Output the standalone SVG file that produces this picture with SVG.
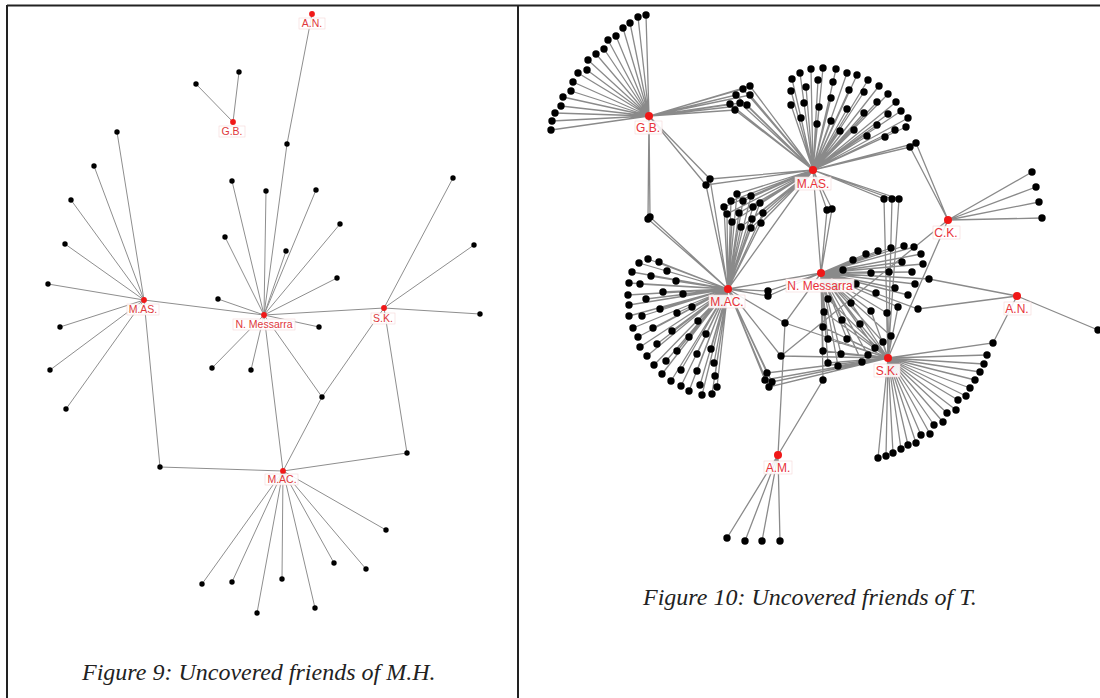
<svg xmlns="http://www.w3.org/2000/svg" width="1100" height="698" viewBox="0 0 1100 698">
<style>
.frame{stroke:#222;stroke-width:2;fill:none}
.el{stroke:#8e8e8e;stroke-width:1;fill:none}
.er{stroke:#8a8a8a;stroke-width:1.3;fill:none}
.nl{fill:#000}
.nr circle{fill:#000;r:3.7px}
.h{fill:#f01818}
.lb{fill:#fff;fill-opacity:.88;stroke:#f6d6d6;stroke-width:.6}
.tl{font-family:"Liberation Sans",Arial,sans-serif;font-size:10.5px;fill:#e0383c;text-anchor:middle}
.tr{font-family:"Liberation Sans",Arial,sans-serif;font-size:12px;fill:#e8333a;text-anchor:middle}
.cap{font-family:"Liberation Serif","Times New Roman",serif;font-style:italic;font-size:24px;fill:#222}
</style>
<rect width="1100" height="698" fill="#fff"/>
<g id="frame">
<line class="frame" x1="7" y1="5.5" x2="1100" y2="5.5" stroke-width="1.6"/>
<line class="frame" x1="7" y1="5" x2="7" y2="698"/>
<line class="frame" x1="518" y1="5" x2="518" y2="698" stroke-width="2.4"/>
</g>

<!-- LEFT FIGURE -->
<g id="left-connectors">
<path class="el" d="M233 122L239 72M233 122L196 84M312 14L287 144L264 315
M144 300L117 132M144 300L94 166M144 300L71 200M144 300L65 244M144 300L48 284M144 300L60 327M144 300L50 370M144 300L66 409
M144 300L264 315M144 300L160 467L283 471
M264 315L232 181M264 315L266 191M264 315L316 190M264 315L340 224M264 315L225 237M264 315L286 251M264 315L337 278M264 315L218 299M264 315L319 327M264 315L212 368M264 315L251 370
M264 315L384 308M264 315L283 471M264 315L322 397L384 308M322 397L283 471
M384 308L453 178M384 308L474 245M384 308L480 314M384 308L407 453L283 471
M283 471L386 530M283 471L334 563M283 471L366 569M283 471L202 584M283 471L232 582M283 471L282 579M283 471L257 613M283 471L315 608"/>
</g>
<g id="left-leaves" class="nl">
<circle id="l1" cx="239" cy="72" r="2.7"/><circle id="l2" cx="196" cy="84" r="2.7"/><circle id="l3" cx="287" cy="144" r="2.7"/>
<circle id="l4" cx="117" cy="132" r="2.7"/><circle id="l5" cx="94" cy="166" r="2.7"/><circle id="l6" cx="71" cy="200" r="2.7"/><circle id="l7" cx="65" cy="244" r="2.7"/><circle id="l8" cx="48" cy="284" r="2.7"/><circle id="l9" cx="60" cy="327" r="2.7"/><circle id="l10" cx="50" cy="370" r="2.7"/><circle id="l11" cx="66" cy="409" r="2.7"/>
<circle id="l12" cx="232" cy="181" r="2.7"/><circle id="l13" cx="266" cy="191" r="2.7"/><circle id="l14" cx="316" cy="190" r="2.7"/><circle id="l15" cx="340" cy="224" r="2.7"/><circle id="l16" cx="225" cy="237" r="2.7"/><circle id="l17" cx="286" cy="251" r="2.7"/><circle id="l18" cx="337" cy="278" r="2.7"/><circle id="l19" cx="218" cy="299" r="2.7"/><circle id="l20" cx="319" cy="327" r="2.7"/><circle id="l21" cx="212" cy="368" r="2.7"/><circle id="l22" cx="251" cy="370" r="2.7"/>
<circle id="l23" cx="453" cy="178" r="2.7"/><circle id="l24" cx="474" cy="245" r="2.7"/><circle id="l25" cx="480" cy="314" r="2.7"/>
<circle id="l26" cx="322" cy="397" r="2.7"/><circle id="l27" cx="407" cy="453" r="2.7"/><circle id="l28" cx="160" cy="467" r="2.7"/>
<circle id="l29" cx="386" cy="530" r="2.7"/><circle id="l30" cx="334" cy="563" r="2.7"/><circle id="l31" cx="366" cy="569" r="2.7"/><circle id="l32" cx="202" cy="584" r="2.7"/><circle id="l33" cx="232" cy="582" r="2.7"/><circle id="l34" cx="282" cy="579" r="2.7"/><circle id="l35" cx="257" cy="613" r="2.7"/><circle id="l36" cx="315" cy="608" r="2.7"/>
</g>
<g id="L-AN"><circle class="h" cx="312" cy="14" r="2.9"/><rect class="lb" x="299" y="18" width="26" height="11"/><text class="tl" x="312" y="27">A.N.</text></g>
<g id="L-GB"><circle class="h" cx="233" cy="122" r="2.9"/><rect class="lb" x="219" y="126" width="26" height="11"/><text class="tl" x="232" y="135">G.B.</text></g>
<g id="L-MAS"><circle class="h" cx="144" cy="300" r="2.9"/><rect class="lb" x="127" y="304" width="32" height="11"/><text class="tl" x="143" y="313">M.AS.</text></g>
<g id="L-NM"><circle class="h" cx="264" cy="315" r="2.9"/><rect class="lb" x="233" y="319" width="62" height="11"/><text class="tl" x="264" y="328">N. Messarra</text></g>
<g id="L-SK"><circle class="h" cx="384" cy="308" r="2.9"/><rect class="lb" x="371" y="313" width="24" height="11"/><text class="tl" x="383" y="322">S.K.</text></g>
<g id="L-MAC"><circle class="h" cx="283" cy="471" r="2.9"/><rect class="lb" x="265" y="474" width="33" height="11"/><text class="tl" x="282" y="483">M.AC.</text></g>
<text class="cap" x="82" y="680">Figure 9: Uncovered friends of M.H.</text>

<!-- RIGHT FIGURE -->
<g id="right-connectors">
<path class="er" d="M649 116L646 15M649 116L638 17M649 116L630 23M649 116L623 28M649 116L616 36M649 116L608 40M649 116L604 49M649 116L596 54M649 116L588 60M649 116L587 70M649 116L578 73M649 116L573 82M649 116L571 91M649 116L563 97M649 116L561 106M649 116L555 113M649 116L552 121M649 116L551 130"/>
<path class="er" d="M649 116L750 86L813 170M649 116L743 89L813 170M649 116L736 95L813 170M649 116L750 95L813 170M649 116L730 104L813 170M649 116L740 103L813 170M649 116L747 105L813 170M649 116L735 110L813 170
M649 116L650 217L728 289M649 116L648 219L728 289M649 116L710 179L813 170M710 179L728 289M649 116L706 185L813 170M706 185L728 289"/>
<path class="er" d="M813 170L792 79M813 170L800 73M813 170L811 69M813 170L823 68M813 170L836 69M813 170L847 73M813 170L857 75M813 170L868 80M813 170L879 86M813 170L888 94M813 170L896 102M813 170L901 111M813 170L908 118M813 170L906 127M813 170L895 130M813 170L885 137M813 170L867 136M813 170L854 130M813 170L840 131M813 170L831 121M813 170L817 124M813 170L801 118M813 170L791 105M813 170L791 91M813 170L806 87M813 170L818 80M813 170L833 82M813 170L849 90M813 170L864 92M813 170L877 102M813 170L888 114M813 170L804 103M813 170L819 107M813 170L831 98M813 170L847 109M813 170L864 113M813 170L877 125"/>
<path class="er" d="M813 170L910 147L948 220M813 170L916 143L948 220M813 170L884 199L888 358M813 170L892 199L888 358M813 170L899 199L888 358M813 170L827 210L821 273M813 170L832 209L821 273M813 170L821 273M813 170L728 289
M813 170L737 194L728 289M813 170L743 201L728 289M813 170L751 196L728 289M813 170L731 201L728 289M813 170L724 207L728 289M813 170L727 214L728 289M813 170L739 213L728 289M813 170L753 207L728 289M813 170L760 203L728 289M813 170L763 213L728 289M813 170L752 219L728 289M813 170L732 222L728 289M813 170L741 227L728 289M813 170L751 228L728 289M813 170L761 223L728 289"/>
<path class="er" d="M728 289L648 259M728 289L659 262M728 289L639 263M728 289L632 272M728 289L667 271M728 289L651 276M728 289L629 283M728 289L640 284M728 289L676 281M728 289L663 292M728 289L628 295M728 289L683 294M728 289L646 299M728 289L629 305M728 289L692 307M728 289L660 309M728 289L629 316M728 289L642 316M728 289L677 313M728 289L633 328M728 289L653 328M728 289L698 321M728 289L672 331M728 289L638 337M728 289L706 334M728 289L689 337M728 289L640 347M728 289L657 344M728 289L711 349M728 289L677 351M728 289L647 356M728 289L697 354M728 289L654 365M728 289L666 361M728 289L714 363M728 289L681 370M728 289L662 374M728 289L697 371M728 289L715 376M728 289L671 381M728 289L689 391M728 289L681 386M728 289L702 395M728 289L700 385M728 289L712 394M728 289L717 387"/>
<path class="er" d="M728 289L768 291L821 273M728 289L768 296L821 273M728 289L821 273
M728 289L767 373L888 358M728 289L765 380L888 358M728 289L772 382L888 358M728 289L769 387L888 358
M728 289L785 323L821 273M785 323L888 358M785 323L778 455M728 289L781 356L888 358M781 356L948 220M821 273L823 380L778 455"/>
<path class="er" d="M821 273L853 260M821 273L866 254M821 273L878 251M821 273L891 248M821 273L904 246M821 273L914 247M821 273L921 254M821 273L923 264M821 273L843 270M821 273L871 273M821 273L889 272M821 273L902 262M821 273L912 272M821 273L915 284M821 273L908 295M821 273L895 288M821 273L876 293M821 273L856 284M821 273L836 287
M821 273L898 307L888 358M821 273L887 313L888 358M821 273L828 299L888 358M821 273L851 303L888 358M821 273L871 311L888 358M821 273L824 312L888 358M821 273L842 320L888 358M821 273L860 324L888 358M821 273L823 327L888 358M821 273L847 339L888 358M821 273L828 339L888 358M821 273L883 342L888 358M821 273L891 336L888 358M821 273L875 348L888 358M821 273L823 351L888 358M821 273L841 354L888 358M821 273L868 355L888 358M821 273L828 363L888 358M821 273L838 366L888 358M821 273L862 362L888 358
M821 273L929 279L1017 296M821 273L918 309L1017 296"/>
<path class="er" d="M948 220L1032 172M948 220L1036 187M948 220L1039 202M948 220L1042 218M948 220L888 358M1017 296L993 343L888 358M1017 296L1098 330
M888 358L987 355M888 358L984 364M888 358L980 372M888 358L975 380M888 358L970 388M888 358L966 396M888 358L958 400M888 358L956 410M888 358L947 413M888 358L943 422M888 358L934 425M888 358L930 434M888 358L921 435M888 358L916 443M888 358L908 445M888 358L901 449M888 358L893 453M888 358L886 456M888 358L878 458
M778 455L727 538M778 455L745 541M778 455L762 541M778 455L780 541"/>
</g>
<g id="right-leaves" class="nr">
<g id="gb-fan"><circle cx="646" cy="15" r="3.7"/><circle cx="638" cy="17" r="3.7"/><circle cx="630" cy="23" r="3.7"/><circle cx="623" cy="28" r="3.7"/><circle cx="616" cy="36" r="3.7"/><circle cx="608" cy="40" r="3.7"/><circle cx="604" cy="49" r="3.7"/><circle cx="596" cy="54" r="3.7"/><circle cx="588" cy="60" r="3.7"/><circle cx="587" cy="70" r="3.7"/><circle cx="578" cy="73" r="3.7"/><circle cx="573" cy="82" r="3.7"/><circle cx="571" cy="91" r="3.7"/><circle cx="563" cy="97" r="3.7"/><circle cx="561" cy="106" r="3.7"/><circle cx="555" cy="113" r="3.7"/><circle cx="552" cy="121" r="3.7"/><circle cx="551" cy="130" r="3.7"/></g>
<g id="gb-mas"><circle cx="750" cy="86" r="3.7"/><circle cx="743" cy="89" r="3.7"/><circle cx="736" cy="95" r="3.7"/><circle cx="750" cy="95" r="3.7"/><circle cx="730" cy="104" r="3.7"/><circle cx="740" cy="103" r="3.7"/><circle cx="747" cy="105" r="3.7"/><circle cx="735" cy="110" r="3.7"/><circle cx="650" cy="217" r="3.7"/><circle cx="648" cy="219" r="3.7"/><circle cx="710" cy="179" r="3.7"/><circle cx="706" cy="185" r="3.7"/></g>
<g id="mas-fan"><circle cx="792" cy="79" r="3.7"/><circle cx="800" cy="73" r="3.7"/><circle cx="811" cy="69" r="3.7"/><circle cx="823" cy="68" r="3.7"/><circle cx="836" cy="69" r="3.7"/><circle cx="847" cy="73" r="3.7"/><circle cx="857" cy="75" r="3.7"/><circle cx="868" cy="80" r="3.7"/><circle cx="879" cy="86" r="3.7"/><circle cx="888" cy="94" r="3.7"/><circle cx="896" cy="102" r="3.7"/><circle cx="901" cy="111" r="3.7"/><circle cx="908" cy="118" r="3.7"/><circle cx="906" cy="127" r="3.7"/><circle cx="895" cy="130" r="3.7"/><circle cx="885" cy="137" r="3.7"/><circle cx="867" cy="136" r="3.7"/><circle cx="854" cy="130" r="3.7"/><circle cx="840" cy="131" r="3.7"/><circle cx="831" cy="121" r="3.7"/><circle cx="817" cy="124" r="3.7"/><circle cx="801" cy="118" r="3.7"/><circle cx="791" cy="105" r="3.7"/><circle cx="791" cy="91" r="3.7"/><circle cx="806" cy="87" r="3.7"/><circle cx="818" cy="80" r="3.7"/><circle cx="833" cy="82" r="3.7"/><circle cx="849" cy="90" r="3.7"/><circle cx="864" cy="92" r="3.7"/><circle cx="877" cy="102" r="3.7"/><circle cx="888" cy="114" r="3.7"/><circle cx="804" cy="103" r="3.7"/><circle cx="819" cy="107" r="3.7"/><circle cx="831" cy="98" r="3.7"/><circle cx="847" cy="109" r="3.7"/><circle cx="864" cy="113" r="3.7"/><circle cx="877" cy="125" r="3.7"/></g>
<g id="mas-links"><circle cx="910" cy="147" r="3.7"/><circle cx="916" cy="143" r="3.7"/><circle cx="884" cy="199" r="3.7"/><circle cx="892" cy="199" r="3.7"/><circle cx="899" cy="199" r="3.7"/><circle cx="827" cy="210" r="3.7"/><circle cx="832" cy="209" r="3.7"/></g>
<g id="mas-mac"><circle cx="737" cy="194" r="3.7"/><circle cx="743" cy="201" r="3.7"/><circle cx="751" cy="196" r="3.7"/><circle cx="731" cy="201" r="3.7"/><circle cx="724" cy="207" r="3.7"/><circle cx="727" cy="214" r="3.7"/><circle cx="739" cy="213" r="3.7"/><circle cx="753" cy="207" r="3.7"/><circle cx="760" cy="203" r="3.7"/><circle cx="763" cy="213" r="3.7"/><circle cx="752" cy="219" r="3.7"/><circle cx="732" cy="222" r="3.7"/><circle cx="741" cy="227" r="3.7"/><circle cx="751" cy="228" r="3.7"/><circle cx="761" cy="223" r="3.7"/></g>
<g id="mac-fan"><circle cx="648" cy="259" r="3.7"/><circle cx="659" cy="262" r="3.7"/><circle cx="639" cy="263" r="3.7"/><circle cx="632" cy="272" r="3.7"/><circle cx="667" cy="271" r="3.7"/><circle cx="651" cy="276" r="3.7"/><circle cx="629" cy="283" r="3.7"/><circle cx="640" cy="284" r="3.7"/><circle cx="676" cy="281" r="3.7"/><circle cx="663" cy="292" r="3.7"/><circle cx="628" cy="295" r="3.7"/><circle cx="683" cy="294" r="3.7"/><circle cx="646" cy="299" r="3.7"/><circle cx="629" cy="305" r="3.7"/><circle cx="692" cy="307" r="3.7"/><circle cx="660" cy="309" r="3.7"/><circle cx="629" cy="316" r="3.7"/><circle cx="642" cy="316" r="3.7"/><circle cx="677" cy="313" r="3.7"/><circle cx="633" cy="328" r="3.7"/><circle cx="653" cy="328" r="3.7"/><circle cx="698" cy="321" r="3.7"/><circle cx="672" cy="331" r="3.7"/><circle cx="638" cy="337" r="3.7"/><circle cx="706" cy="334" r="3.7"/><circle cx="689" cy="337" r="3.7"/><circle cx="640" cy="347" r="3.7"/><circle cx="657" cy="344" r="3.7"/><circle cx="711" cy="349" r="3.7"/><circle cx="677" cy="351" r="3.7"/><circle cx="647" cy="356" r="3.7"/><circle cx="697" cy="354" r="3.7"/><circle cx="654" cy="365" r="3.7"/><circle cx="666" cy="361" r="3.7"/><circle cx="714" cy="363" r="3.7"/><circle cx="681" cy="370" r="3.7"/><circle cx="662" cy="374" r="3.7"/><circle cx="697" cy="371" r="3.7"/><circle cx="715" cy="376" r="3.7"/><circle cx="671" cy="381" r="3.7"/><circle cx="689" cy="391" r="3.7"/><circle cx="681" cy="386" r="3.7"/><circle cx="702" cy="395" r="3.7"/><circle cx="700" cy="385" r="3.7"/><circle cx="712" cy="394" r="3.7"/><circle cx="717" cy="387" r="3.7"/></g>
<g id="mac-links"><circle cx="768" cy="291" r="3.7"/><circle cx="768" cy="296" r="3.7"/><circle cx="767" cy="373" r="3.7"/><circle cx="765" cy="380" r="3.7"/><circle cx="772" cy="382" r="3.7"/><circle cx="769" cy="387" r="3.7"/><circle cx="785" cy="323" r="3.7"/><circle cx="781" cy="356" r="3.7"/><circle cx="823" cy="380" r="3.7"/></g>
<g id="nm-fan"><circle cx="853" cy="260" r="3.7"/><circle cx="866" cy="254" r="3.7"/><circle cx="878" cy="251" r="3.7"/><circle cx="891" cy="248" r="3.7"/><circle cx="904" cy="246" r="3.7"/><circle cx="914" cy="247" r="3.7"/><circle cx="921" cy="254" r="3.7"/><circle cx="923" cy="264" r="3.7"/><circle cx="843" cy="270" r="3.7"/><circle cx="871" cy="273" r="3.7"/><circle cx="889" cy="272" r="3.7"/><circle cx="902" cy="262" r="3.7"/><circle cx="912" cy="272" r="3.7"/><circle cx="915" cy="284" r="3.7"/><circle cx="908" cy="295" r="3.7"/><circle cx="895" cy="288" r="3.7"/><circle cx="876" cy="293" r="3.7"/><circle cx="856" cy="284" r="3.7"/><circle cx="836" cy="287" r="3.7"/><circle cx="898" cy="307" r="3.7"/><circle cx="887" cy="313" r="3.7"/><circle cx="828" cy="299" r="3.7"/><circle cx="851" cy="303" r="3.7"/><circle cx="871" cy="311" r="3.7"/><circle cx="824" cy="312" r="3.7"/><circle cx="842" cy="320" r="3.7"/><circle cx="860" cy="324" r="3.7"/><circle cx="823" cy="327" r="3.7"/><circle cx="847" cy="339" r="3.7"/><circle cx="828" cy="339" r="3.7"/><circle cx="883" cy="342" r="3.7"/><circle cx="891" cy="336" r="3.7"/><circle cx="875" cy="348" r="3.7"/><circle cx="823" cy="351" r="3.7"/><circle cx="841" cy="354" r="3.7"/><circle cx="868" cy="355" r="3.7"/><circle cx="828" cy="363" r="3.7"/><circle cx="838" cy="366" r="3.7"/><circle cx="862" cy="362" r="3.7"/><circle cx="929" cy="279" r="3.7"/><circle cx="918" cy="309" r="3.7"/></g>
<g id="ck-an"><circle cx="1032" cy="172" r="3.7"/><circle cx="1036" cy="187" r="3.7"/><circle cx="1039" cy="202" r="3.7"/><circle cx="1042" cy="218" r="3.7"/><circle cx="993" cy="343" r="3.7"/><circle cx="1098" cy="330" r="3.7"/></g>
<g id="sk-fan"><circle cx="987" cy="355" r="3.7"/><circle cx="984" cy="364" r="3.7"/><circle cx="980" cy="372" r="3.7"/><circle cx="975" cy="380" r="3.7"/><circle cx="970" cy="388" r="3.7"/><circle cx="966" cy="396" r="3.7"/><circle cx="958" cy="400" r="3.7"/><circle cx="956" cy="410" r="3.7"/><circle cx="947" cy="413" r="3.7"/><circle cx="943" cy="422" r="3.7"/><circle cx="934" cy="425" r="3.7"/><circle cx="930" cy="434" r="3.7"/><circle cx="921" cy="435" r="3.7"/><circle cx="916" cy="443" r="3.7"/><circle cx="908" cy="445" r="3.7"/><circle cx="901" cy="449" r="3.7"/><circle cx="893" cy="453" r="3.7"/><circle cx="886" cy="456" r="3.7"/><circle cx="878" cy="458" r="3.7"/></g>
<g id="am-fan"><circle cx="727" cy="538" r="3.7"/><circle cx="745" cy="541" r="3.7"/><circle cx="762" cy="541" r="3.7"/><circle cx="780" cy="541" r="3.7"/></g>
</g>
<g id="R-GB"><circle class="h" cx="649" cy="116" r="4"/><rect class="lb" x="635" y="121" width="27" height="13"/><text class="tr" x="648" y="132">G.B.</text></g>
<g id="R-MAS"><circle class="h" cx="813" cy="170" r="4"/><rect class="lb" x="795" y="177" width="36" height="13"/><text class="tr" x="813" y="188">M.AS.</text></g>
<g id="R-CK"><circle class="h" cx="948" cy="220" r="4"/><rect class="lb" x="933" y="226" width="27" height="13"/><text class="tr" x="946" y="236.5">C.K.</text></g>
<g id="R-MAC"><circle class="h" cx="728" cy="289" r="4"/><rect class="lb" x="709" y="295" width="36" height="13"/><text class="tr" x="727" y="306">M.AC.</text></g>
<g id="R-NM"><circle class="h" cx="821" cy="273" r="4"/><rect class="lb" x="786" y="279" width="68" height="13"/><text class="tr" x="820" y="290">N. Messarra</text></g>
<g id="R-SK"><circle class="h" cx="888" cy="358" r="4"/><rect class="lb" x="874" y="364" width="26" height="13"/><text class="tr" x="887" y="375">S.K.</text></g>
<g id="R-AN"><circle class="h" cx="1017" cy="296" r="4"/><rect class="lb" x="1004" y="302" width="27" height="13"/><text class="tr" x="1017" y="313">A.N.</text></g>
<g id="R-AM"><circle class="h" cx="778" cy="455" r="4"/><rect class="lb" x="764" y="461" width="28" height="13"/><text class="tr" x="778" y="472">A.M.</text></g>
<text class="cap" x="643" y="605">Figure 10: Uncovered friends of T.</text>
</svg>
